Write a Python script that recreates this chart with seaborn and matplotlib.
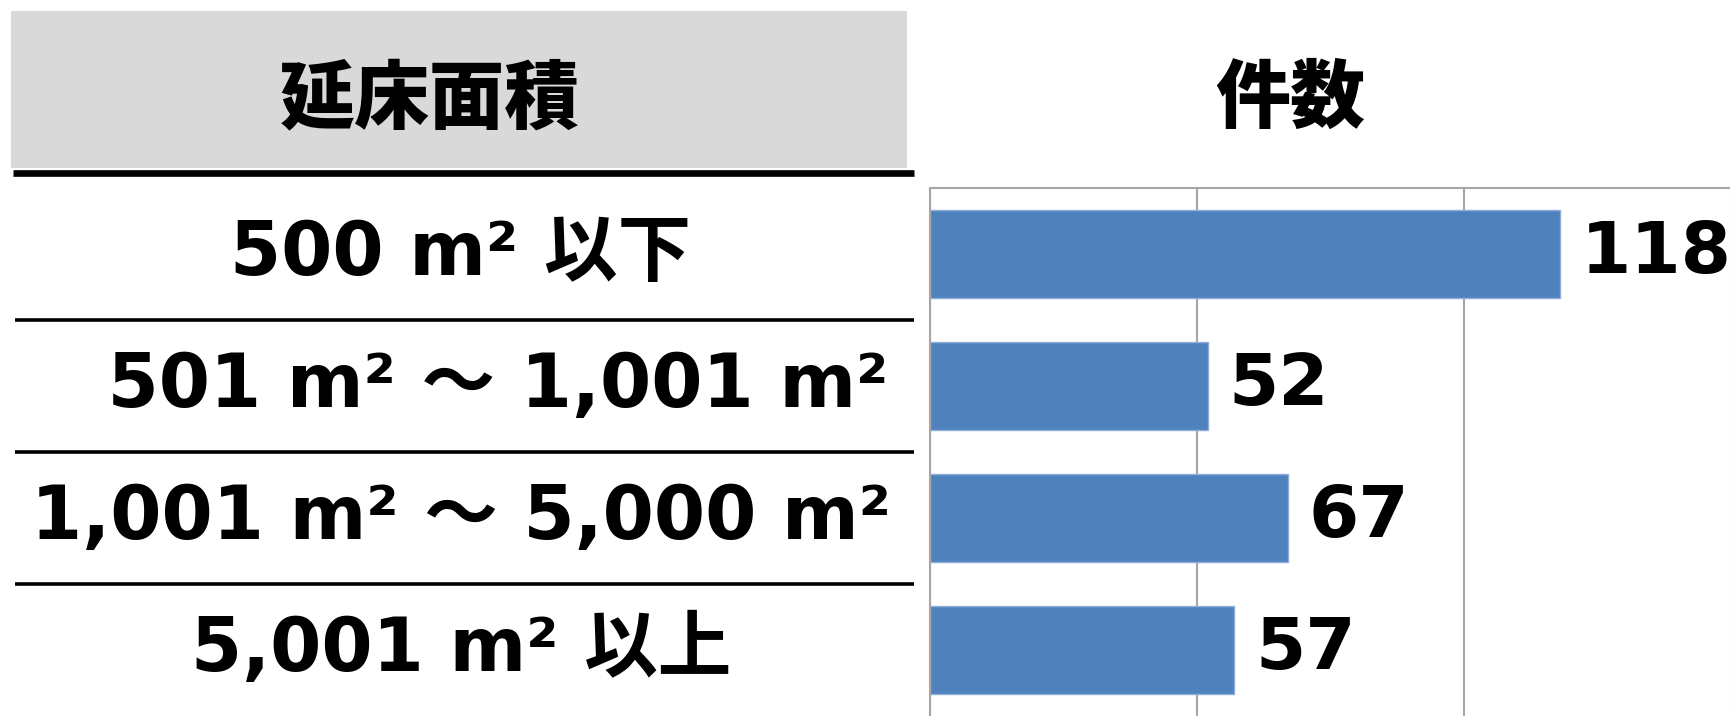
import matplotlib
matplotlib.use("Agg")
import matplotlib.pyplot as plt
import matplotlib.transforms as mtransforms
from matplotlib.patches import Rectangle
import seaborn as sns

# data
categories = ["500 m\u00b2 以下", "\u3000501 m\u00b2 ～ 1,001 m\u00b2",
              "1,001 m\u00b2 ～ 5,000 m\u00b2", "5,001 m\u00b2 以上"]
counts = [118, 52, 67, 57]
header_left = "延床面積"
header_right = "件数"
x_ticks = [0, 50, 100, 150]

sns.set_theme(style="white")
plt.rcParams['font.family'] = ['DejaVu Sans', 'Noto Sans CJK JP']
plt.rcParams['text.color'] = 'black'

W, H = 1731, 716
fig = plt.figure(figsize=(W / 100, H / 100), dpi=100)

# bar area (right side)
ax = fig.add_axes([930 / W, 0, (W - 930) / W, (716 - 188) / H])
sns.barplot(x=counts, y=categories, orient="h", color="#4F81BD", width=0.66,
            edgecolor="#8EAEDA", linewidth=1, saturation=1, ax=ax)
ax.set_xlim(0, 150)
ax.set_ylim(3.5, -0.5)
ax.set_xticks(x_ticks)
ax.xaxis.grid(True, color="#A6A6A6", linewidth=1.5)
ax.set_axisbelow(True)
ax.tick_params(left=False, bottom=False, labelleft=False, labelbottom=False)
ax.set_xlabel("")
ax.set_ylabel("")
for side in ["right", "bottom"]:
    ax.spines[side].set_visible(False)
for side in ["top", "left"]:
    ax.spines[side].set_color("#A6A6A6")
    ax.spines[side].set_linewidth(1.5)
ax.bar_label(ax.containers[0], padding=15, fontsize=52, fontweight="bold", color="black")

# left table side
fig.patches.append(Rectangle((11 / W, 1 - 168 / H), (907 - 11) / W, (168 - 11) / H,
                             transform=fig.transFigure, facecolor="#D9D9D9",
                             edgecolor="none", zorder=0))
fig.lines.append(plt.Line2D([13 / W, 914 / W], [1 - 173 / H] * 2, transform=fig.transFigure,
                            color="black", linewidth=4.8, solid_capstyle="butt"))
fig.text(430 / W, 1 - 100 / H, header_left, ha="center", va="center",
         fontsize=54, fontweight="black", family=['Noto Sans CJK JP'])
fig.text(1290 / W, 1 - 100 / H, header_right, ha="center", va="center",
         fontsize=54, fontweight="black", family=['Noto Sans CJK JP'])

trans = mtransforms.blended_transform_factory(fig.transFigure, ax.transData)
for i, label in enumerate(categories):
    ax.text(461 / W, i, label, transform=trans, ha="center", va="center",
            fontsize=53, fontweight="bold", clip_on=False)
for i in range(len(categories) - 1):
    ax.plot([15 / W, 914 / W], [i + 0.5, i + 0.5], transform=trans, color="black",
            linewidth=2.6, clip_on=False, solid_capstyle="butt")

fig.savefig("out.png", dpi=100)
